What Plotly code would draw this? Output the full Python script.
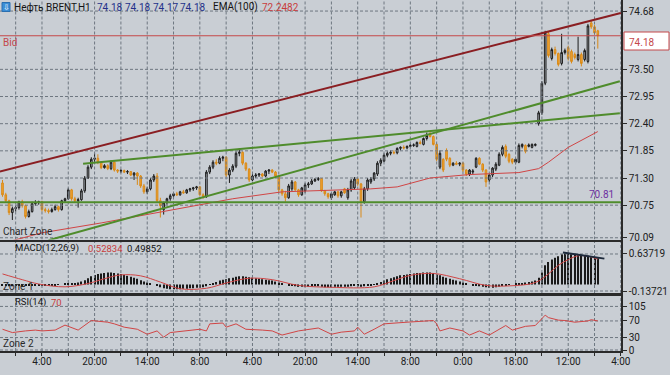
import plotly.graph_objects as go

# ---------------- data ----------------
bar_open = [71.20,70.96,70.84,70.60,70.68,70.70,70.82,70.74,70.52,70.62,
            70.78,70.80,70.82,70.66,70.64,70.62,70.66,70.72,70.66,70.84,
            70.88,71.06,70.88,70.84,70.86,71.04,71.30,71.52,71.68,71.70,
            71.62,71.51,71.55,71.49,71.62,71.46,71.44,71.45,71.42,71.43,
            71.36,71.40,71.34,71.14,71.02,71.08,71.26,71.34,70.84,70.66,
            70.80,70.88,70.94,70.98,70.96,71.02,71.00,71.06,71.08,71.10,
            71.12,70.96,70.92,71.42,71.52,71.62,71.60,71.70,71.72,71.36,
            71.46,71.54,71.80,71.82,71.60,71.48,71.26,71.34,71.36,71.38,
            71.34,71.44,71.46,71.42,71.34,71.06,70.98,70.90,71.08,71.22,
            71.06,70.96,71.04,71.16,71.18,71.24,71.27,71.29,71.04,70.98,
            70.90,70.96,71.02,70.94,71.08,70.90,71.06,71.10,71.28,71.18,
            70.82,71.08,71.22,71.28,71.38,71.60,71.64,71.76,71.80,71.82,
            71.81,71.90,71.92,71.91,71.94,71.96,71.94,72.02,71.98,72.10,
            72.20,72.14,71.98,71.52,71.68,71.86,71.70,71.56,71.60,71.58,
            71.60,71.46,71.38,71.42,71.52,71.70,71.58,71.46,71.26,71.36,
            71.48,71.56,71.78,71.94,71.78,71.68,71.62,71.62,71.94,71.96,
            71.94,71.92,71.96,72.40,72.62,73.22,74.22,73.72,73.90,73.82,
            73.62,73.84,73.94,73.86,73.80,73.70,73.80,73.70,73.66,74.44,
            74.36,74.28]
bar_high = [71.26,71.00,70.86,70.72,70.74,70.84,70.86,70.76,70.66,70.82,
            70.85,70.84,70.84,70.70,70.68,70.70,70.76,70.74,70.86,70.90,
            71.10,71.08,70.92,70.90,71.08,71.34,71.56,71.72,71.80,71.78,
            71.64,71.58,71.58,71.66,71.63,71.48,71.48,71.47,71.46,71.44,
            71.42,71.42,71.36,71.18,71.12,71.30,71.38,71.40,70.90,70.82,
            70.90,70.98,71.00,71.02,71.04,71.06,71.08,71.10,71.12,71.14,
            71.14,70.99,71.46,71.56,71.66,71.68,71.74,71.75,71.74,71.50,
            71.58,71.84,71.90,71.84,71.62,71.50,71.38,71.40,71.40,71.40,
            71.46,71.48,71.48,71.44,71.36,71.08,71.04,71.18,71.26,71.24,
            71.08,71.12,71.20,71.22,71.28,71.30,71.32,71.30,71.06,71.00,
            71.00,71.04,71.04,71.04,71.10,71.10,71.28,71.32,71.30,71.20,
            71.12,71.30,71.32,71.42,71.64,71.70,71.80,71.84,71.86,71.86,
            71.92,71.94,71.96,71.96,71.99,72.00,72.04,72.06,72.12,72.22,
            72.24,72.16,72.00,71.86,71.70,71.90,71.72,71.62,71.64,71.62,
            71.62,71.48,71.48,71.48,71.72,71.72,71.60,71.48,71.38,71.52,
            71.62,71.82,71.96,71.98,71.80,71.70,71.70,72.00,72.00,71.98,
            72.00,72.00,72.00,72.66,73.26,74.28,74.26,73.94,73.96,73.84,
            74.22,73.92,73.98,73.90,73.84,74.16,73.84,73.92,74.42,74.48,
            74.40,74.30]
bar_low = [70.92,70.80,70.55,70.45,70.62,70.66,70.70,70.48,70.50,70.60,
           70.74,70.76,70.62,70.60,70.58,70.60,70.64,70.62,70.64,70.80,
           70.86,70.84,70.80,70.70,70.84,71.00,71.28,71.48,71.62,71.58,
           71.48,71.49,71.46,71.46,71.43,71.40,71.40,71.40,71.38,71.34,
           71.26,71.16,71.10,70.98,70.98,71.05,71.22,70.80,70.50,70.56,
           70.76,70.84,70.90,70.94,70.94,70.98,70.98,71.02,71.04,71.06,
           70.94,70.88,70.90,71.38,71.48,71.56,71.58,71.64,71.32,71.20,
           71.42,71.50,71.74,71.56,71.44,71.22,71.24,71.30,71.32,71.32,
           71.32,71.38,71.40,71.32,71.02,70.94,70.82,70.88,71.04,71.04,
           70.92,70.94,71.00,71.10,71.16,71.22,71.24,71.02,70.94,70.88,
           70.86,70.94,70.90,70.90,70.98,70.86,71.02,71.06,71.14,70.50,
           70.78,71.04,71.18,71.24,71.34,71.54,71.62,71.72,71.76,71.78,
           71.78,71.86,71.88,71.88,71.92,71.93,71.92,71.98,71.96,72.06,
           72.12,71.96,71.64,71.48,71.42,71.64,71.52,71.54,71.56,71.54,
           71.42,71.34,71.34,71.38,71.50,71.56,71.42,71.12,71.22,71.32,
           71.44,71.54,71.74,71.70,71.60,71.58,71.58,71.60,71.90,71.80,
           71.92,71.90,71.94,72.36,72.58,73.18,73.74,73.68,73.78,73.56,
           73.58,73.80,73.68,73.62,73.70,73.66,73.56,73.66,73.62,74.32,
           74.20,73.92]
bar_close = [70.96,70.84,70.60,70.68,70.70,70.82,70.74,70.52,70.62,70.78,
             70.80,70.82,70.66,70.64,70.62,70.66,70.72,70.66,70.84,70.88,
             71.06,70.88,70.84,70.86,71.04,71.30,71.52,71.68,71.70,71.62,
             71.51,71.55,71.49,71.62,71.46,71.44,71.45,71.42,71.43,71.36,
             71.40,71.34,71.14,71.02,71.08,71.26,71.34,70.84,70.74,70.80,
             70.88,70.94,70.98,70.96,71.02,71.00,71.06,71.08,71.10,71.12,
             70.96,70.92,71.42,71.52,71.62,71.60,71.70,71.72,71.36,71.46,
             71.54,71.80,71.82,71.60,71.48,71.26,71.34,71.36,71.38,71.34,
             71.44,71.46,71.42,71.34,71.06,70.98,70.90,71.14,71.22,71.06,
             70.96,71.10,71.16,71.18,71.24,71.27,71.29,71.04,70.98,70.92,
             70.98,71.02,70.94,71.02,71.00,71.06,71.24,71.28,71.18,70.82,
             71.08,71.26,71.28,71.40,71.60,71.66,71.76,71.80,71.82,71.81,
             71.90,71.92,71.91,71.94,71.96,71.97,72.02,72.00,72.10,72.16,
             72.14,71.98,71.68,71.80,71.46,71.68,71.56,71.60,71.58,71.60,
             71.46,71.38,71.46,71.44,71.70,71.58,71.46,71.22,71.36,71.50,
             71.58,71.78,71.92,71.74,71.64,71.62,71.68,71.96,71.98,71.84,
             71.97,71.98,71.98,72.62,73.22,74.24,73.78,73.90,73.82,73.60,
             73.84,73.88,73.72,73.66,73.74,73.80,73.62,73.88,74.38,74.36,
             74.24,74.18]
bar_index = list(range(len(bar_close)))

macd_hist = [-0.02,-0.03,-0.04,-0.04,-0.03,-0.03,-0.02,-0.03,-0.03,-0.02,
             -0.02,-0.02,-0.02,-0.03,-0.03,-0.02,-0.02,-0.01,0.00,0.01,
             0.02,0.02,0.03,0.04,0.06,0.09,0.13,0.17,0.20,0.22,
             0.23,0.24,0.25,0.25,0.24,0.23,0.22,0.20,0.18,0.16,
             0.14,0.12,0.09,0.06,0.04,0.02,0.00,-0.03,-0.06,-0.08,
             -0.09,-0.10,-0.10,-0.10,-0.10,-0.09,-0.09,-0.08,-0.08,-0.07,
             -0.07,-0.06,-0.04,-0.01,0.02,0.05,0.08,0.10,0.11,0.13,
             0.14,0.16,0.17,0.17,0.16,0.15,0.14,0.13,0.12,0.11,
             0.10,0.09,0.08,0.06,0.04,0.02,0.00,-0.02,-0.03,-0.04,
             -0.05,-0.05,-0.05,-0.05,-0.04,-0.04,-0.04,-0.05,-0.06,-0.06,
             -0.06,-0.05,-0.05,-0.05,-0.05,-0.05,-0.04,-0.03,-0.04,-0.05,
             -0.04,-0.03,-0.02,-0.01,0.02,0.05,0.08,0.11,0.13,0.15,
             0.17,0.19,0.20,0.21,0.22,0.23,0.24,0.24,0.25,0.25,
             0.25,0.24,0.21,0.19,0.16,0.14,0.12,0.10,0.08,0.06,
             0.04,0.02,0.00,-0.02,-0.03,-0.04,-0.05,-0.06,-0.07,-0.07,
             -0.06,-0.05,-0.03,-0.02,-0.01,0.00,0.01,0.02,0.03,0.04,
             0.05,0.06,0.08,0.14,0.25,0.40,0.47,0.52,0.56,0.59,
             0.63,0.65,0.66,0.65,0.64,0.63,0.62,0.61,0.60,0.59,
             0.57,0.55]

signal_idx = [0, 6, 11, 19, 26, 31, 36, 42, 48, 54, 62, 68, 75, 82, 90, 100,
              113, 119, 124, 131, 139, 147, 154, 162, 166, 169, 172, 175, 178, 181]
signal_val = [0.22, 0.10, 0.01, -0.05, 0.02, 0.12, 0.20, 0.18, 0.05, -0.09, -0.08,
              0.03, 0.13, 0.10, -0.02, -0.06, -0.05, 0.08, 0.19, 0.23, 0.12, -0.02,
              -0.03, 0.04, 0.22, 0.40, 0.52, 0.60, 0.59, 0.53]

rsi_idx = [0, 3, 7, 10, 12, 16, 19, 23, 27, 32, 34, 37, 41, 44, 47, 49, 51, 56, 60,
           62, 63, 67, 68, 71, 74, 79, 82, 85, 90, 96, 100, 103, 107, 108, 110, 113,
           116, 123, 128, 131, 132, 133, 136, 140, 142, 145, 148, 153, 155, 159, 162,
           165, 166, 169, 171, 174, 178, 179, 181]
rsi_val = [50, 42, 46, 48, 46, 48, 60, 48, 71, 67, 63, 55, 50, 38, 46, 31, 42, 46, 50,
           46, 63, 65, 55, 63, 50, 48, 46, 36, 46, 53, 38, 43, 46, 55, 38, 50,
           63, 67, 70, 71, 63, 46, 53, 46, 36, 46, 36, 59, 48, 57, 59,
           84, 78, 72, 71, 67, 70, 73, 70]

ema_idx = [0, 12, 30, 45, 60, 70, 85, 100, 112, 120, 130, 142, 157, 163, 166, 172, 181]
ema_val = [69.98, 70.19, 70.39, 70.57, 70.76, 70.88, 71.02, 71.06, 71.08, 71.12,
           71.30, 71.37, 71.41, 71.49, 71.62, 71.92, 72.24]

# drawn objects (bar index, price)
red_trend_idx = [-0.8, 188.0]
red_trend_val = [71.43, 74.64]
green_upper_idx = [24.5, 187.7]
green_upper_val = [71.59, 72.61]
green_rise_idx = [14.0, 187.7]
green_rise_val = [70.04, 73.26]
green_flat_idx = [-0.8, 188.0]
green_flat_val = [70.81, 70.81]
bid_price = 74.18
macd_line_idx = [170.4, 183.0]
macd_line_val = [0.67, 0.54]

time_tick_idx = [12, 28, 44, 60, 76, 92, 108, 124, 140, 156, 172, 188]
time_tick_text = ["4:00", "20:00", "14:00", "8:00", "4:00", "20:00", "14:00",
                  "8:00", "0:00", "18:00", "12:00", "4:00"]
price_ticks = [70.09, 70.75, 71.30, 71.85, 72.40, 72.95, 73.50, 74.68]
macd_ticks = [0.63719, -0.13721]
macd_tick_text = ["0.63719", "-0.13721"]
rsi_ticks = [0, 30, 70, 105]

# ---------------- layout helpers ----------------
W, H = 670, 375
ML, MR, MT, MB = 0, 49, 0, 24
PW, PH = W - ML - MR, H - MT - MB


def px(x):
    return (x - ML) / PW


def py(y):
    return 1 - (y - MT) / PH


FONT = "Roboto"
BG = "#c9ced4"
GRID = "#6e7780"
AXC = "#2a2a2a"

grid_idx = sorted(time_tick_idx + [t - 8 for t in time_tick_idx])
XR = [-0.76, 188.05]

fig = go.Figure()

# dashed grid as line traces on the axes' own tick values (drawn first, so behind the data)
gline = dict(color=GRID, width=1, dash="3px,2px")
for xa, ya, vals, yr in [("x", "y", price_ticks, [70.055, 74.904]),
                         ("x2", "y2", macd_ticks, [-0.179, 0.888]),
                         ("x3", "y3", rsi_ticks, [-2.4, 131.3])]:
    gx, gy = [], []
    for g in grid_idx:
        gx += [g, g, None]
        gy += [yr[0], yr[1], None]
    for v in vals:
        gx += [XR[0], XR[1], None]
        gy += [v, v, None]
    fig.add_trace(go.Scatter(x=gx, y=gy, mode="lines", line=gline, xaxis=xa, yaxis=ya,
                             showlegend=False, hoverinfo="skip", connectgaps=False))

fig.add_trace(go.Candlestick(
    x=bar_index, open=bar_open, high=bar_high, low=bar_low, close=bar_close,
    increasing=dict(line=dict(color="#1c1c1c", width=1), fillcolor="#a3aab1"),
    decreasing=dict(line=dict(color="#d98a18", width=1), fillcolor="#f2a433"),
    whiskerwidth=0, xaxis="x", yaxis="y", showlegend=False, hoverinfo="skip"))

fig.add_trace(go.Scatter(x=ema_idx, y=ema_val, mode="lines",
                         line=dict(color="#d04545", width=1), xaxis="x", yaxis="y",
                         showlegend=False, hoverinfo="skip"))
for xs, ys in [(green_flat_idx, green_flat_val), (green_upper_idx, green_upper_val),
               (green_rise_idx, green_rise_val)]:
    fig.add_trace(go.Scatter(x=xs, y=ys, mode="lines",
                             line=dict(color="#4f8c2c", width=2), xaxis="x", yaxis="y",
                             showlegend=False, hoverinfo="skip"))
fig.add_trace(go.Scatter(x=red_trend_idx, y=red_trend_val, mode="lines",
                         line=dict(color="#8a1e22", width=2), xaxis="x", yaxis="y",
                         showlegend=False, hoverinfo="skip"))
fig.add_trace(go.Scatter(x=XR, y=[bid_price, bid_price], mode="lines",
                         line=dict(color="#c4484a", width=1), xaxis="x", yaxis="y",
                         showlegend=False, hoverinfo="skip"))

# MACD
fig.add_trace(go.Bar(x=bar_index, y=macd_hist, width=0.32, marker=dict(color="#1a1a1a", line=dict(width=0)),
                     xaxis="x2", yaxis="y2", showlegend=False, hoverinfo="skip"))
fig.add_trace(go.Scatter(x=signal_idx, y=signal_val, mode="lines", line=dict(color="#d04545", width=1, shape="spline"),
                         xaxis="x2", yaxis="y2", showlegend=False, hoverinfo="skip"))
fig.add_trace(go.Scatter(x=macd_line_idx, y=macd_line_val, mode="lines", line=dict(color="#1e2a3c", width=2),
                         xaxis="x2", yaxis="y2", showlegend=False, hoverinfo="skip"))

# RSI
fig.add_trace(go.Scatter(x=rsi_idx, y=rsi_val, mode="lines", line=dict(color="#d04545", width=1),
                         xaxis="x3", yaxis="y3", showlegend=False, hoverinfo="skip"))

grid_text = [time_tick_text[time_tick_idx.index(g)] if g in time_tick_idx else "" for g in grid_idx]

xcommon = dict(range=XR, tickmode="array", tickvals=grid_idx, showgrid=False, zeroline=False,
               showline=True, mirror=True, linecolor=AXC, linewidth=1.5, fixedrange=True,
               automargin=False)
ycommon = dict(side="right", showgrid=False, zeroline=False, showline=True, mirror=True,
               linecolor=AXC, linewidth=1.5, ticks="outside", ticklen=4, tickcolor=AXC,
               automargin=False, tickfont=dict(family=FONT, size=10, color="#202020"),
               fixedrange=True)

fig.update_layout(
    width=W, height=H, margin=dict(l=ML, r=MR, t=MT, b=MB, autoexpand=False),
    paper_bgcolor=BG, plot_bgcolor=BG, showlegend=False, barmode="overlay",
    font=dict(family=FONT, size=10, color="#202020"),
    xaxis=dict(**xcommon, anchor="y", showticklabels=False, rangeslider=dict(visible=False)),
    xaxis2=dict(**xcommon, anchor="y2", matches="x", showticklabels=False),
    xaxis3=dict(**xcommon, anchor="y3", matches="x", ticktext=grid_text, ticks="outside",
                ticklen=3, tickcolor=AXC, ticklabelstandoff=-3,
                tickfont=dict(family=FONT, size=10, color="#202020")),
    yaxis=dict(**ycommon, domain=[py(239.5), 1.0], range=[70.055, 74.904], tickvals=price_ticks,
               ticktext=["%.2f" % v for v in price_ticks]),
    yaxis2=dict(**ycommon, domain=[py(293), py(242)], range=[-0.179, 0.888], tickvals=macd_ticks,
                ticktext=macd_tick_text),
    yaxis3=dict(**ycommon, domain=[0.0, py(295.5)], range=[-2.4, 131.3], tickvals=rsi_ticks,
                ticktext=[str(v) for v in rsi_ticks]),
)

shapes = [
    dict(type="rect", xref="paper", yref="paper", x0=px(624), x1=px(669), y0=py(50), y1=py(32),
         fillcolor="#ffffff", line=dict(color="#c4484a", width=1), layer="below"),
    dict(type="rect", xref="paper", yref="paper", x0=px(2), x1=px(10), y0=py(11.5), y1=py(2.5),
         fillcolor="#3b8ed6", line=dict(color="#2a6fb0", width=1), layer="above"),
]

ann = []


def text(x, y, s, color="#202020", size=10, xanchor="left"):
    ann.append(dict(x=px(x), y=py(y), xref="paper", yref="paper", text=s, showarrow=False,
                    xanchor=xanchor, yanchor="middle", font=dict(family=FONT, size=size, color=color)))


# header
text(12, 7, "Нефть BRENT,H1", "#151515", 10)
text(95, 7, "74.18", "#23308a", 10)
text(123, 7, "74.18", "#23308a", 10)
text(151, 7, "74.17", "#23308a", 10)
text(178, 7, "74.18", "#23308a", 10)
text(211, 7, "EMA(100)", "#151515", 10)
text(260, 7, "72.2482", "#c83c3c", 10)
text(1, 43, "Bid", "#c4484a", 10)
text(1, 231, "Chart Zone", "#2a2a2a", 10)
text(616, 194, "70.81", "#6d2fa0", 10, "right")
# bid box label
text(627, 42, "74.18", "#c4484a", 10)
# MACD
text(13, 248, "MACD(12,26,9)", "#151515", 9.5)
text(86, 248, "0.52834", "#c83c3c", 9.5)
text(125, 248, "0.49852", "#151515", 9.5)
text(1, 286, "Zone 1", "#2a2a2a", 10)
# RSI
text(13, 302, "RSI(14)", "#151515", 9.5)
text(49, 302, "70", "#c83c3c", 9.5)
text(1, 343, "Zone 2", "#2a2a2a", 10)
# icon arrow
ann.append(dict(x=px(6), y=py(7), xref="paper", yref="paper", text="⇩", showarrow=False,
                xanchor="center", yanchor="middle", font=dict(family="DejaVu Sans", size=8, color="#ffffff")))

fig.update_layout(annotations=ann, shapes=shapes)

fig.write_html("out.html", config={"displayModeBar": False},
               post_script="document.body.style.margin='0';document.body.style.padding='0';"
               "document.body.style.overflow='hidden';document.body.style.background='" + BG + "';")
